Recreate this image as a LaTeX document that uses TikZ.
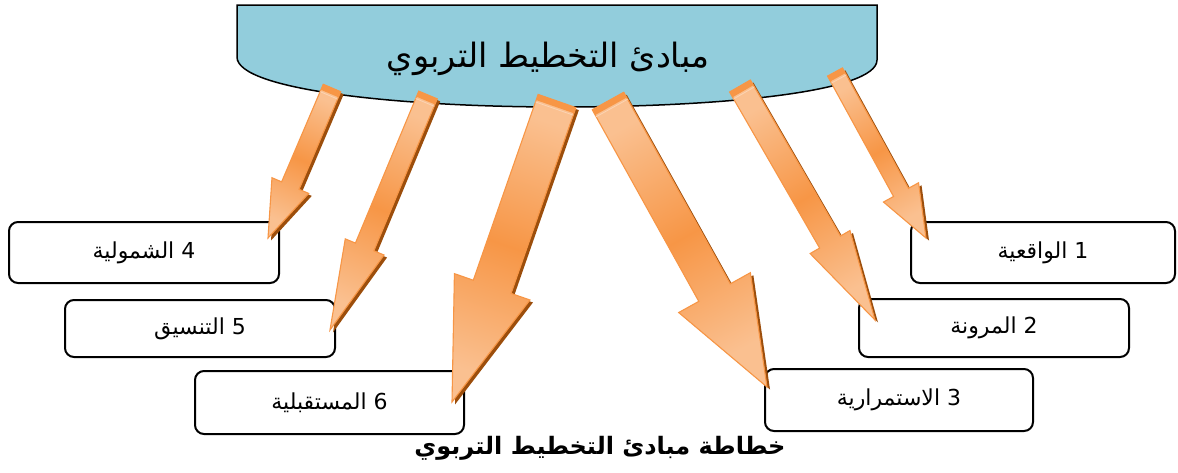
\documentclass[tikz,border=0pt]{standalone}
\usepackage{fontspec}
\newfontfamily\arabicfont[Script=Arabic]{DejaVu Sans}
\TeXXeTstate=1
\usetikzlibrary{calc}

\definecolor{headerblue}{HTML}{92CDDC}
\definecolor{arroworange}{HTML}{F79646}
\definecolor{arrowlight}{HTML}{FAC090}
\definecolor{arrowshade}{HTML}{9C4E0C}
\definecolor{caplight}{HTML}{FBD4B4}

\tikzset{
  header/.style={draw=black, line width=1.5pt, fill=headerblue},
  headtext/.style={font=\arabicfont\fontsize{33.5}{40}\selectfont, inner sep=0pt},
  principle/.style={draw=black, line width=2pt, rounded corners=9pt, fill=white,
    inner sep=0pt, font=\arabicfont\fontsize{22}{26}\selectfont},
  arrowbody/.style={draw=arroworange, line width=1.1pt, line join=miter,
    top color=arrowlight, bottom color=arrowlight, middle color=arroworange},
  arrowshadow/.style={fill=arrowshade},
  arrowcap/.style={fill=arroworange},
  captitle/.style={font=\arabicfont\bfseries\fontsize{24}{29}\selectfont, inner sep=0pt},
}

% #1 id, #2 tail, #3 tip, #4 half shaft width, #5 half head width, #6 head length
\newcommand\orangearrow[6]{%
  \coordinate (#1-b) at ($(#3)!#6pt!(#2)$);
  \coordinate (#1-t1) at ($(#2)!#4pt!90:(#3)$);
  \coordinate (#1-t2) at ($(#2)!#4pt!-90:(#3)$);
  \coordinate (#1-s1) at ($(#1-b)!#4pt!90:(#3)$);
  \coordinate (#1-s2) at ($(#1-b)!#4pt!-90:(#3)$);
  \coordinate (#1-h1) at ($(#1-b)!#5pt!90:(#3)$);
  \coordinate (#1-h2) at ($(#1-b)!#5pt!-90:(#3)$);
  \pgfmathanglebetweenpoints{\pgfpointanchor{#2}{center}}{\pgfpointanchor{#3}{center}}%
  \pgfmathsetmacro\arrowang{\pgfmathresult-90}%
  \fill[arrowshadow, transform canvas={xshift=3pt, yshift=-2.5pt}]
    (#1-t1) -- (#1-s1) -- (#1-h1) -- (#3) -- (#1-h2) -- (#1-s2) -- (#1-t2) -- cycle;
  \draw[arrowbody, shading angle=\arrowang]
    (#1-t1) -- (#1-s1) -- (#1-h1) -- (#3) -- (#1-h2) -- (#1-s2) -- (#1-t2) -- cycle;
  \fill[arrowcap] (#1-t1) -- ($(#1-t1)!6pt!(#1-s1)$) -- ($(#1-t2)!6pt!(#1-s2)$) -- (#1-t2) -- cycle;
  \draw[caplight, line width=0.8pt] ($(#1-t1)!8pt!(#1-s1)$) -- ($(#1-t2)!8pt!(#1-s2)$);
}

\begin{document}
\begin{tikzpicture}[x=1pt, y=-1pt]
\useasboundingbox (0,0) rectangle (1178,472);

% header banner with curved lower edge
\draw[header] (237,5) -- (877,5) -- (877,60)
  .. controls (877,92) and (720,107) .. (560,107)
  .. controls (400,107) and (237,90) .. (237,57) -- cycle;
\node[headtext] (title) at (548,59) {\beginR مبادئ التخطيط التربوي\endR};

% principle boxes
\node[principle, minimum width=264pt, minimum height=61pt] (p1) at (1043,252.5) {\beginR 1 الواقعية\endR};
\node[principle, minimum width=270pt, minimum height=58pt] (p2) at (994,328) {\beginR 2 المرونة\endR};
\node[principle, minimum width=268pt, minimum height=62pt] (p3) at (899,400) {\beginR 3 الاستمرارية\endR};
\node[principle, minimum width=270pt, minimum height=61pt] (p4) at (144,252.5) {\beginR 4 الشمولية\endR};
\node[principle, minimum width=270pt, minimum height=57pt] (p5) at (200,328.5) {\beginR 5 التنسيق\endR};
\node[principle, minimum width=269pt, minimum height=63pt] (p6) at (329.5,402.5) {\beginR 6 المستقبلية\endR};

% arrow tails and tips
\coordinate (tA) at (332,88);   \coordinate (eA) at (268,238);
\coordinate (tB) at (428,95);   \coordinate (eB) at (330,330);
\coordinate (tC) at (557,101);  \coordinate (eC) at (452,402);
\coordinate (tD) at (608,101);  \coordinate (eD) at (767,387);
\coordinate (tE) at (740,86);   \coordinate (eE) at (875,320);
\coordinate (tF) at (835,72);   \coordinate (eF) at (926,238);

\orangearrow{aA}{tA}{eA}{9.5}{20}{57}
\orangearrow{aB}{tB}{eB}{10}{21}{90}
\orangearrow{aC}{tC}{eC}{20}{40}{122}
\orangearrow{aD}{tD}{eD}{18}{41}{108}
\orangearrow{aE}{tE}{eE}{12}{23}{90}
\orangearrow{aF}{tF}{eF}{8.5}{20}{52}

% caption
\node[captitle] (caption) at (600,448) {\beginR خطاطة مبادئ التخطيط التربوي\endR};
\end{tikzpicture}
\end{document}
